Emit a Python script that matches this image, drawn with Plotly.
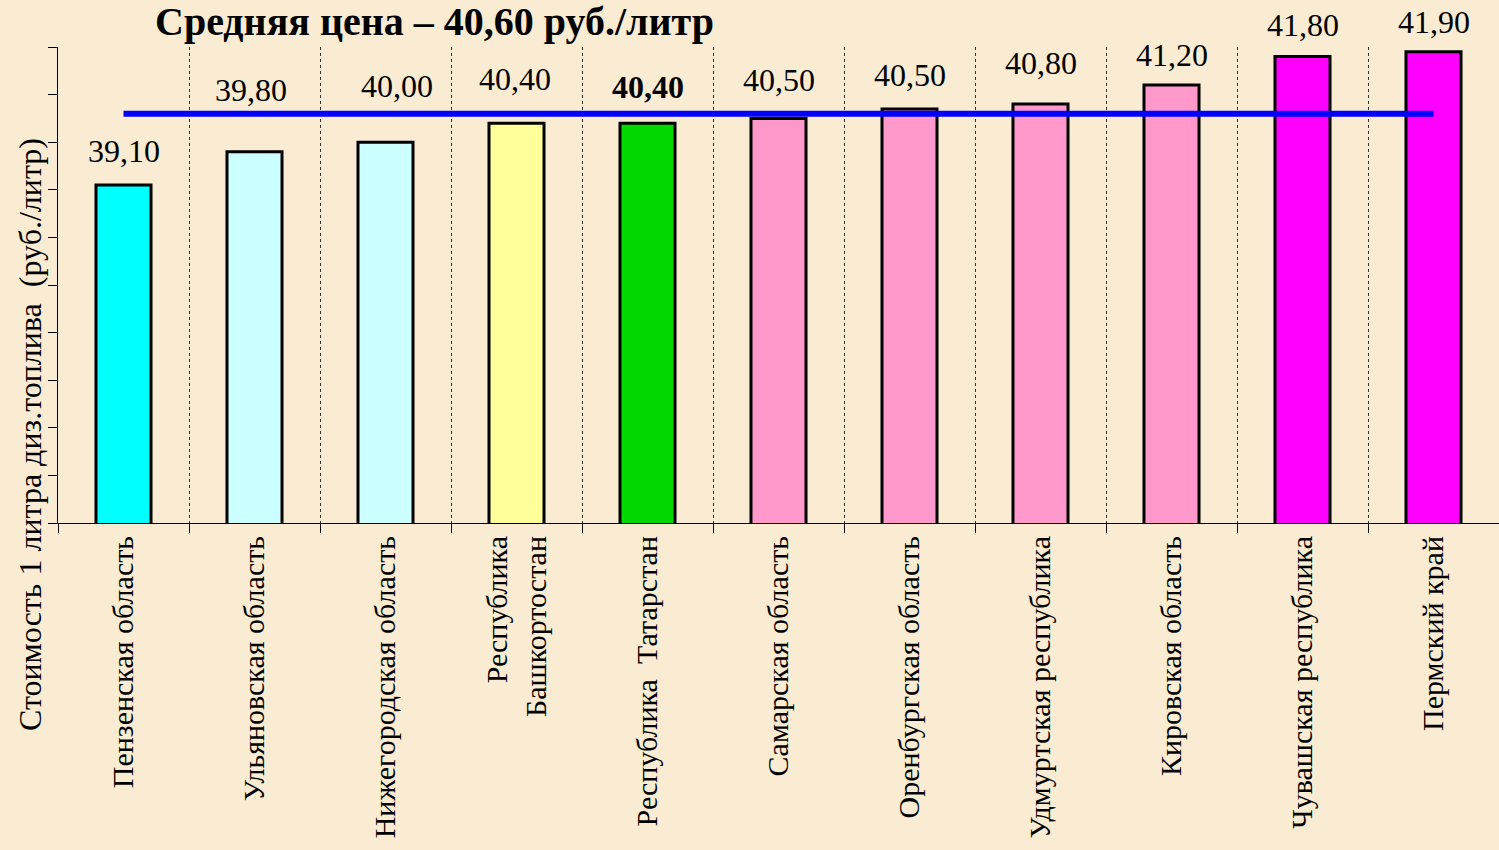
import plotly.graph_objects as go

# ---------------- data ----------------
regions = [
    "Пензенская область",
    "Ульяновская область",
    "Нижегородская область",
    "Республика<br>Башкортостан",
    "Республика  Татарстан",
    "Самарская область",
    "Оренбургская область",
    "Удмуртская республика",
    "Кировская область",
    "Чувашская республика",
    "Пермский край",
]
bar_heights = [39.1, 39.8, 40.0, 40.4, 40.4, 40.5, 40.7, 40.8, 41.2, 41.8, 41.9]
price_labels = ["39,10", "39,80", "40,00", "40,40", "40,40", "40,50",
                "40,50", "40,80", "41,20", "41,80", "41,90"]
label_bold = [False, False, False, False, True, False, False, False, False, False, False]
bar_colors = ["#00FFFF", "#CCFFFF", "#CCFFFF", "#FFFF99", "#00D800", "#FF99CC",
              "#FF99CC", "#FF99CC", "#FF99CC", "#FF00FF", "#FF00FF"]
average_price = 40.6
title_text = "Средняя цена – 40,60 руб./литр"
y_title = "Стоимость 1 литра диз.топлива  (руб./литр)"
y_range = [32, 42]

# label placement offsets (pixels, layout only)
label_yshift = [14, 42, 36, 24, 16, 18, 14, 21, 10, 12, 10]
label_xshift = [0, -4, 11, -2, 0, 0, 0, 0, 0, 0, 0]

SERIF = "Liberation Serif, Times New Roman, serif"
BG = "#F9ECD3"

fig = go.Figure()

fig.add_trace(go.Bar(
    x=regions, y=bar_heights,
    marker=dict(color=bar_colors, line=dict(color="#000000", width=3)),
    hoverinfo="skip",
    showlegend=False,
))

fig.add_trace(go.Scatter(
    x=[regions[0], regions[-1]], y=[average_price, average_price],
    mode="lines", line=dict(color="#0000FF", width=6),
    hoverinfo="skip", showlegend=False,
))

for r, h, lab, b, ys, xs in zip(regions, bar_heights, price_labels, label_bold,
                                label_yshift, label_xshift):
    fig.add_annotation(
        x=r, y=h, xref="x", yref="y",
        text=f"<b>{lab}</b>" if b else lab,
        showarrow=False, yanchor="bottom", yshift=ys, xshift=xs,
        font=dict(family=SERIF, size=32, color="#000000"),
    )

fig.add_annotation(
    x=(434 - 58) / 1441, y=1, xref="paper", yref="paper",
    text=f"<b>{title_text}</b>", showarrow=False,
    xanchor="center", yanchor="bottom", yshift=1,
    font=dict(family=SERIF, size=40, color="#000000"),
)

fig.add_annotation(
    x=(30 - 58) / 1441, y=(523 - 435) / 476, xref="paper", yref="paper",
    text=y_title, showarrow=False, textangle=-90,
    xanchor="center", yanchor="middle",
    font=dict(family=SERIF, size=32, color="#000000"),
)

fig.update_layout(
    width=1499, height=850,
    margin=dict(l=58, r=0, t=47, b=327),
    paper_bgcolor=BG, plot_bgcolor=BG,
    bargap=0.58,
    font=dict(family=SERIF, color="#000000"),
)

fig.update_xaxes(
    type="category",
    showline=True, linecolor="#000000", linewidth=1,
    tickson="boundaries", ticks="outside", ticklen=9, tickcolor="#000000",
    showgrid=True, gridcolor="#333333", gridwidth=1, griddash="dot",
    tickangle=-90,
    tickfont=dict(family=SERIF, size=30, color="#000000"),
    zeroline=False,
)

fig.update_yaxes(
    range=y_range, dtick=1, tick0=32,
    showline=True, linecolor="#000000", linewidth=1,
    ticks="outside", ticklen=9, tickcolor="#000000",
    showticklabels=False, showgrid=False, zeroline=False,
)

fig.write_html(
    "out.html",
    config={"displayModeBar": False},
    post_script="document.body.style.margin='0';document.body.style.padding='0';"
                "document.body.style.background='" + BG + "';",
)
